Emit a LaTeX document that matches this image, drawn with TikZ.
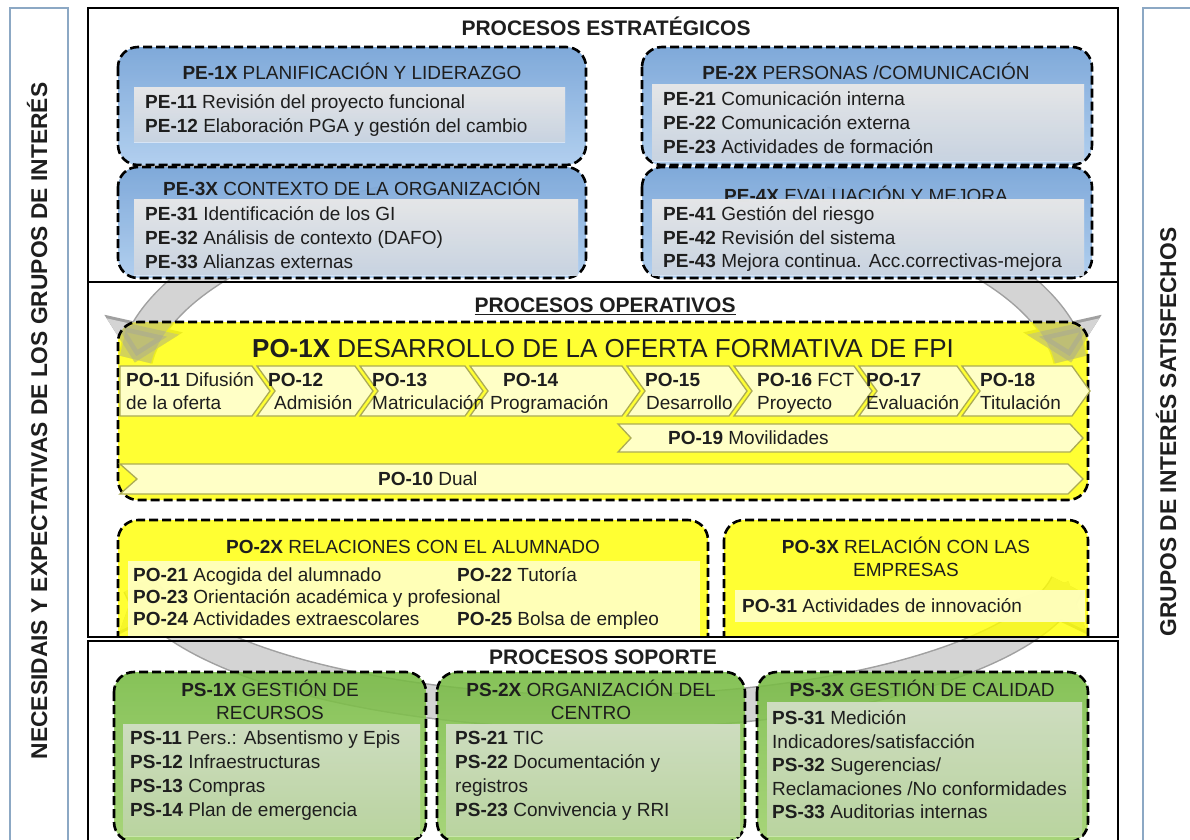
\documentclass[tikz,border=0pt]{standalone}
\usepackage{fontspec}
\setmainfont{Liberation Sans}
\usetikzlibrary{arrows.meta}

\definecolor{ink}{RGB}{30,30,30}
\definecolor{peTop}{RGB}{118,163,215}
\definecolor{peBot}{RGB}{172,204,238}
\definecolor{pePanel}{RGB}{220,232,247}
\definecolor{poFill}{RGB}{255,255,0}
\definecolor{poPanel}{RGB}{255,255,198}
\definecolor{poEdge}{RGB}{172,172,84}
\definecolor{psTop}{RGB}{118,186,66}
\definecolor{psBot}{RGB}{156,208,104}
\definecolor{psPanel}{RGB}{204,233,176}
\definecolor{sideLine}{RGB}{140,168,196}
\definecolor{bandEdge}{RGB}{160,160,160}
\definecolor{bandFill}{RGB}{212,212,212}

\tikzset{
  frame/.style={draw=black,line width=2.2pt},
  side/.style={draw=sideLine,line width=1.6pt},
  group/.style={draw=black,line width=2.6pt,dash pattern=on 9pt off 4pt,rounded corners=20pt},
  pebox/.style={group,top color=peTop,bottom color=peBot,fill opacity=.93},
  pobox/.style={group,fill=poFill,fill opacity=.8},
  psbox/.style={group,top color=psTop,bottom color=psBot,fill opacity=.88},
  pepanel/.style={top color=white!92!pePanel,bottom color=pePanel,fill opacity=.9},
  popanel/.style={fill=poPanel,fill opacity=.9},
  pspanel/.style={top color=psPanel!55!white,bottom color=psPanel,fill opacity=.9},
  chev/.style={draw=poEdge,line width=1.3pt,fill=poPanel},
  heading/.style={font=\fontsize{21}{24}\selectfont\bfseries,text=ink,inner sep=0pt,text height=15pt,text depth=0pt},
  sidetext/.style={font=\fontsize{22.8}{25}\selectfont\bfseries,text=ink,rotate=90,inner sep=0pt,text height=16.3pt,text depth=0pt},
  title/.style={font=\fontsize{19}{23}\selectfont,text=ink,inner sep=0pt,text height=13.6pt,text depth=0pt},
  bigtitle/.style={font=\fontsize{26}{30}\selectfont,text=ink,inner sep=0pt,text height=18.6pt,text depth=0pt},
  item/.style={font=\fontsize{19}{23}\selectfont,text=ink,anchor=west,inner sep=0pt,text height=13.6pt,text depth=0pt},
}

\newcommand{\proclist}[5]{%
  \foreach \entry [count=\i] in {#5}
    \node[item] (#1\i) at (#2,{#3+#4*(\i-1)}) {\entry};}

\newcommand{\chevtext}[5]{%
  \node[item] (#1a) at (#2,380) {#3};
  \node[item] (#1b) at (#4,403) {#5};}

\newcommand{\bandarcs}[5]{%
  \foreach \from/\to/\cy/\ry in {#5}
    \draw[line width=#1,draw=#2,-{Triangle[length=#3,width=#4]}]
      plot[domain=\from:\to,samples=60] ({603+470*cos(\x)},{\cy-\ry*sin(\x)});}

\begin{document}
\begin{tikzpicture}[x=1pt,y=-1pt]
\useasboundingbox (0,0) rectangle (1190,839);
\clip (0,0) rectangle (1190,839);
\fill[white] (0,0) rectangle (1190,839);

\draw[side] (10,8) rectangle (68,880);
\draw[side] (1143,8) rectangle (1230,880);
\node[sidetext] (needs) at (39,421) {NECESIDAIS Y EXPECTATIVAS DE LOS GRUPOS DE INTERÉS};
\node[sidetext] (happy) at (1168,432) {GRUPOS DE INTERÉS SATISFECHOS};

% cycle behind the groups
\begin{scope}
\clip (88,8) rectangle (1118,839);
\bandarcs{35pt}{bandEdge}{40pt}{78pt}{118/175/380/200,62/5/380/200,270/188/560/152,270/352/560/152}
\bandarcs{32pt}{bandFill}{37pt}{72pt}{118/175/380/200,62/5/380/200,270/188/560/152,270/352/560/152}
\end{scope}

\draw[frame] (88,8) rectangle (1118,282);
\draw[frame] (88,282) rectangle (1118,637);
\draw[frame] (88,641) rectangle (1118,880);

\node[heading] (strat) at (606,28) {PROCESOS ESTRATÉGICOS};
\node[heading] (oper) at (605,305) {\underline{PROCESOS OPERATIVOS}};
\node[heading] (supp) at (603,657) {PROCESOS SOPORTE};

% estrategicos
\draw[pebox] (118,47) rectangle (586,165);
\draw[pebox] (642,47) rectangle (1092,165);
\draw[pebox] (118,167) rectangle (586,278);
\draw[pebox] (642,167) rectangle (1092,278);

\node[title] (pe1) at (352,73) {\textbf{PE-1X} PLANIFICACIÓN  Y LIDERAZGO};
\fill[pepanel] (134,87) rectangle (565,142);
\proclist{pe1}{145}{102}{24}{{\textbf{PE-11} Revisión del proyecto funcional},{\textbf{PE-12} Elaboración PGA y gestión del cambio}}

\node[title] (pe2) at (866,73) {\textbf{PE-2X} PERSONAS /COMUNICACIÓN};
\fill[pepanel] (652,84) rectangle (1084,161);
\proclist{pe2}{663}{99}{24}{{\textbf{PE-21} Comunicación interna},{\textbf{PE-22} Comunicación externa},{\textbf{PE-23} Actividades de formación}}

\node[title] (pe3) at (352,189) {\textbf{PE-3X} CONTEXTO  DE LA ORGANIZACIÓN};
\fill[pepanel] (134,199) rectangle (578,275);
\proclist{pe3}{145}{214}{24}{{\textbf{PE-31} Identificación de los GI},{\textbf{PE-32} Análisis de contexto (DAFO)},{\textbf{PE-33} Alianzas externas}}

\node[title] (pe4) at (866,196) {\textbf{PE-4X} EVALUACIÓN  Y MEJORA};
\fill[pepanel] (652,199) rectangle (1084,275);
\proclist{pe4}{663}{214}{23.5}{{\textbf{PE-41} Gestión del riesgo},{\textbf{PE-42} Revisión del sistema},{\textbf{PE-43} Mejora continua. Acc.correctivas-mejora}}

% operativos
\path[pobox,draw=none] (118,322) rectangle (1088,500);
\begin{scope}[opacity=.4]
\clip[rounded corners=20pt] (118,322) rectangle (1088,500);
\bandarcs{32pt}{bandEdge}{37pt}{72pt}{118/175/380/200,62/5/380/200}
\end{scope}
\draw[group] (118,322) rectangle (1088,500);
\node[bigtitle] (po1) at (603,348) {\textbf{PO-1X} DESARROLLO DE LA OFERTA FORMATIVA DE FPI};

\draw[chev] (120,366) -- (252,366) -- ++(18,25) -- (252,416) -- (120,416) -- cycle;
\foreach \l/\r in {257/355,360/465,470/622,627/729,734/854,859/957,962/1072}
  \draw[chev] (\l,366) -- (\r,366) -- ++(18,25) -- (\r,416) -- (\l,416) -- ++(18,-25) -- cycle;
\chevtext{po11}{126}{\textbf{PO-11} Difusión}{126}{de la oferta}
\chevtext{po12}{268}{\textbf{PO-12}}{274}{Admisión}
\chevtext{po13}{372}{\textbf{PO-13}}{372}{Matriculación}
\chevtext{po14}{503}{\textbf{PO-14}}{490}{Programación}
\chevtext{po15}{645}{\textbf{PO-15}}{646}{Desarrollo}
\chevtext{po16}{757}{\textbf{PO-16} FCT}{757}{Proyecto}
\chevtext{po17}{866}{\textbf{PO-17}}{866}{Evaluación}
\chevtext{po18}{980}{\textbf{PO-18}}{980}{Titulación}

\draw[chev] (618,424) -- (1070,424) -- (1083,438) -- (1070,452) -- (618,452) -- (631,438) -- cycle;
\node[item] (po19) at (668,438) {\textbf{PO-19} Movilidades};
\draw[chev] (120,464) -- (1068,464) -- (1083,479) -- (1068,494) -- (120,494) -- (137,479) -- cycle;
\node[item] (po10) at (378,479) {\textbf{PO-10} Dual};

\begin{scope}
\clip (100,505) rectangle (1110,635.5);
\draw[pobox] (118,520) rectangle (708,662);
\draw[pobox] (724,520) rectangle (1088,662);
\fill[popanel] (128,561) rectangle (700,662);
\end{scope}

\node[title] (po2) at (413,547) {\textbf{PO-2X} RELACIONES  CON EL ALUMNADO};
\proclist{po2}{133}{575}{22}{{\textbf{PO-21} Acogida del alumnado},{\textbf{PO-23} Orientación académica y profesional},{\textbf{PO-24} Actividades extraescolares}}
\node[item] (po22) at (457,575) {\textbf{PO-22} Tutoría};
\node[item] (po25) at (457,619) {\textbf{PO-25} Bolsa de empleo};

\node[title] (po3) at (906,547) {\textbf{PO-3X} RELACIÓN  CON LAS};
\node[title] (po3b) at (906,570) {EMPRESAS};
\fill[popanel] (735,590) rectangle (1085,622);
\node[item] (po31) at (742,606) {\textbf{PO-31} Actividades de innovación};

% soporte
\draw[psbox] (114,672) rectangle (426,842);
\draw[psbox] (437,672) rectangle (745,842);
\draw[psbox] (757,672) rectangle (1088,842);

\node[title] (ps1) at (270,690) {\textbf{PS-1X} GESTIÓN  DE};
\node[title] (ps1b) at (270,713) {RECURSOS};
\fill[pspanel] (123,724) rectangle (420,836);
\proclist{ps1}{130}{738}{24}{{\textbf{PS-11} Pers.: Absentismo  y Epis},{\textbf{PS-12} Infraestructuras},{\textbf{PS-13} Compras},{\textbf{PS-14} Plan de emergencia}}

\node[title] (ps2) at (591,690) {\textbf{PS-2X} ORGANIZACIÓN  DEL};
\node[title] (ps2b) at (591,713) {CENTRO};
\fill[pspanel] (446,724) rectangle (740,836);
\proclist{ps2}{455}{738}{24}{{\textbf{PS-21} TIC},{\textbf{PS-22} Documentación  y},{registros},{\textbf{PS-23} Convivencia y RRI}}

\node[title] (ps3) at (922,690) {\textbf{PS-3X} GESTIÓN  DE CALIDAD};
\fill[pspanel] (767,702) rectangle (1082,836);
\proclist{ps3}{772}{718}{23.5}{{\textbf{PS-31} Medición},{Indicadores/satisfacción},{\textbf{PS-32} Sugerencias/},{Reclamaciones /No conformidades},{\textbf{PS-33} Auditorias  internas}}
\end{tikzpicture}
\end{document}
